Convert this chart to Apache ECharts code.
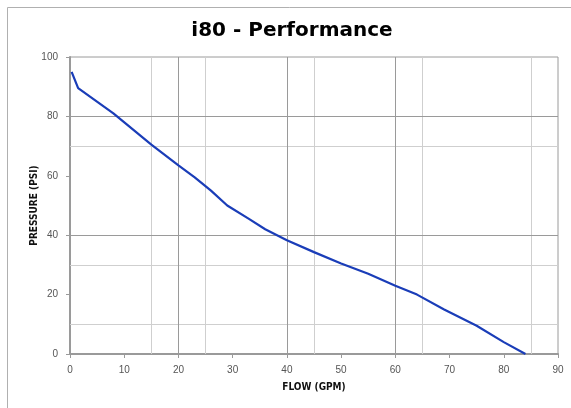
<!DOCTYPE html>
<html>
<head>
<meta charset="utf-8">
<script src="https://cdn.jsdelivr.net/npm/echarts@6/dist/echarts.min.js"></script>
<style>
html,body{margin:0;padding:0;background:#fff;}
#chart{width:571px;height:408px;}
</style>
</head>
<body>
<div id="chart"></div>
<script>
// Data
var flowGPM = [0.3, 1.5, 8, 15, 20, 23, 26, 29, 33, 36, 40, 45, 50, 55, 60, 64, 69, 75, 80, 84];
var pressurePSI = [95, 89.5, 81, 70.5, 63.5, 59.5, 55, 50, 45.5, 42, 38.3, 34.3, 30.5, 27, 23, 20, 15, 9.5, 4, 0];
var darkVerticalLines = [20, 40, 60];
var lightVerticalLines = [15, 25, 45, 65, 85];
var darkHorizontalLines = [40, 80];
var lightHorizontalLines = [10, 30, 70];
var xTickLabels = [0, 10, 20, 30, 40, 50, 60, 70, 80, 90];
var yTickLabels = [0, 20, 40, 60, 80, 100];

var curve = flowGPM.map(function (f, i) { return [f, pressurePSI[i]]; });
var darkStyle = { color: '#9a9a9a', width: 1, type: 'solid' };
var lightStyle = { color: '#cfcfcf', width: 1, type: 'solid' };
var gridLines = []
  .concat(lightVerticalLines.map(function (v) { return { xAxis: v, lineStyle: lightStyle }; }))
  .concat(lightHorizontalLines.map(function (v) { return { yAxis: v, lineStyle: lightStyle }; }))
  .concat(darkVerticalLines.map(function (v) { return { xAxis: v, lineStyle: darkStyle }; }))
  .concat(darkHorizontalLines.map(function (v) { return { yAxis: v, lineStyle: darkStyle }; }));

var labelFont = "'Liberation Sans', Arial, sans-serif";
var nameFont = "'DejaVu Sans Condensed', 'Liberation Sans', sans-serif";

var chart = echarts.init(document.getElementById('chart'), null, { renderer: 'canvas' });
chart.setOption({
  animation: false,
  backgroundColor: '#fff',
  graphic: [{
    type: 'rect',
    shape: { x: 7.5, y: 7.5, width: 580, height: 420 },
    style: { fill: 'none', stroke: '#b0b0b0', lineWidth: 1 },
    silent: true
  }],
  title: {
    text: 'i80 - Performance',
    left: 287,
    textAlign: 'center',
    top: 16,
    textStyle: { fontFamily: "'DejaVu Sans', sans-serif", fontWeight: 'bold', fontSize: 20, color: '#000' }
  },
  grid: {
    left: 70, right: 13, top: 57, bottom: 54,
    show: true, borderColor: '#9a9a9a', borderWidth: 1
  },
  xAxis: {
    type: 'value', min: 0, max: 90, interval: 10,
    name: 'FLOW (GPM)', nameLocation: 'middle', nameGap: 28, nameMoveOverlap: false,
    nameTextStyle: { fontFamily: nameFont, fontWeight: 'bold', fontSize: 10, color: '#111' },
    axisLine: { show: true, lineStyle: { color: '#9a9a9a', width: 2 } },
    axisTick: { show: true, length: 4, lineStyle: { color: '#9a9a9a' } },
    axisLabel: {
      margin: 11, fontFamily: labelFont, fontSize: 10, color: '#555',
      formatter: function (v) { return xTickLabels.indexOf(v) >= 0 ? String(v) : ''; }
    },
    splitLine: { show: false }
  },
  yAxis: {
    type: 'value', min: 0, max: 100, interval: 20,
    name: 'PRESSURE (PSI)', nameLocation: 'middle', nameGap: 31, nameRotate: 90, nameMoveOverlap: false,
    nameTextStyle: { fontFamily: nameFont, fontWeight: 'bold', fontSize: 10, color: '#111' },
    axisLine: { show: true, lineStyle: { color: '#9a9a9a', width: 2 } },
    axisTick: { show: true, length: 4, lineStyle: { color: '#9a9a9a' } },
    axisLabel: {
      margin: 12, fontFamily: labelFont, fontSize: 10, color: '#555',
      formatter: function (v) { return yTickLabels.indexOf(v) >= 0 ? String(v) : ''; }
    },
    splitLine: { show: false }
  },
  series: [{
    type: 'line',
    data: curve,
    showSymbol: false,
    smooth: false,
    lineStyle: { color: '#1a3db8', width: 2.2 },
    z: 5,
    markLine: {
      silent: true,
      symbol: ['none', 'none'],
      label: { show: false },
      z: 1,
      data: gridLines
    }
  }]
});
</script>
</body>
</html>
